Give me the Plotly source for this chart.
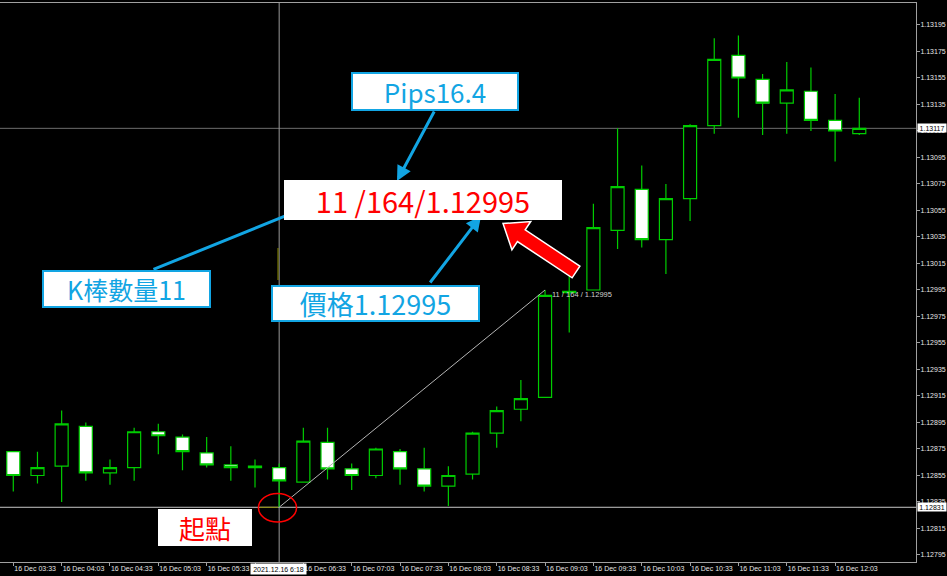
import numpy as np
import plotly.graph_objects as go

# ---------------- data ----------------
day = "2021-12-16 "
times = ["03:33", "03:48", "04:03", "04:18", "04:33", "04:48", "05:03", "05:18", "05:33",
         "05:48", "06:03", "06:18", "06:33", "06:48", "07:03", "07:18", "07:33", "07:48",
         "08:03", "08:18", "08:33", "08:48", "09:03", "09:18", "09:33", "09:48", "10:03",
         "10:18", "10:33", "10:48", "11:03", "11:18", "11:33", "11:48", "12:03", "12:18"]
opens = [1.12873, 1.12855, 1.12862, 1.12892, 1.12857, 1.12861, 1.12888, 1.12884, 1.12872,
         1.12863, 1.12861, 1.12861, 1.12850, 1.12880, 1.12860, 1.12855, 1.12873, 1.12860,
         1.12847, 1.12856, 1.12887, 1.12905, 1.12914, 1.12993, 1.12995, 1.13040, 1.13071,
         1.13033, 1.13064, 1.13119, 1.13172, 1.13154, 1.13136, 1.13145, 1.13123, 1.13113]
highs = [1.12873, 1.12873, 1.12904, 1.12895, 1.12867, 1.12891, 1.12894, 1.12886, 1.12884,
         1.12877, 1.12867, 1.12864, 1.12891, 1.12891, 1.12864, 1.12876, 1.12875, 1.12876,
         1.12862, 1.12888, 1.12907, 1.12927, 1.12995, 1.13019, 1.13060, 1.13117, 1.13089,
         1.13075, 1.13120, 1.13185, 1.13187, 1.13158, 1.13167, 1.13163, 1.13143, 1.13140]
lows = [1.12843, 1.12849, 1.12835, 1.12851, 1.12848, 1.12851, 1.12871, 1.12859, 1.12861,
        1.12851, 1.12846, 1.12831, 1.12850, 1.12852, 1.12844, 1.12853, 1.12848, 1.12843,
        1.12832, 1.12852, 1.12876, 1.12896, 1.12914, 1.12963, 1.12995, 1.13026, 1.13027,
        1.13007, 1.13047, 1.13113, 1.13125, 1.13112, 1.13113, 1.13115, 1.13092, 1.13112]
closes = [1.12855, 1.12861, 1.12894, 1.12857, 1.12861, 1.12888, 1.12885, 1.12873, 1.12863,
          1.12861, 1.12862, 1.12851, 1.12881, 1.12860, 1.12855, 1.12875, 1.12860, 1.12847,
          1.12855, 1.12887, 1.12904, 1.12913, 1.12991, 1.12994, 1.13042, 1.13073, 1.13033,
          1.13064, 1.13119, 1.13169, 1.13155, 1.13136, 1.13146, 1.13123, 1.13115, 1.13117]

price_ticks = [1.12795, 1.12815, 1.12835, 1.12855, 1.12875, 1.12895, 1.12915, 1.12935,
               1.12955, 1.12975, 1.12995, 1.13015, 1.13035, 1.13055, 1.13075, 1.13095,
               1.13115, 1.13135, 1.13155, 1.13175, 1.13195]
time_ticks = ["03:33", "04:03", "04:33", "05:03", "05:33", "06:03", "06:33", "07:03", "07:33",
              "08:03", "08:33", "09:03", "09:33", "10:03", "10:33", "11:03", "11:33", "12:03"]
time_tick_labels = ["16 Dec " + t for t in time_ticks]

current_price = 1.13117
start_index, end_index = 11, 22
start_price, end_price = 1.12831, 1.12995
measure_text = "11 / 164 / 1.12995"
crosshair_label = "2021.12.16 6:18"
label_pips = "Pips16.4"
label_main = "11 /164/1.12995"
label_count = "K棒數量11"
label_price = "價格1.12995"
label_start = "起點"

x_dates = [day + t for t in times]

# ---------------- layout helpers ----------------
W_PLOT, TOP, BOTTOM = 916, 3, 562


def PX(x):
    return x / W_PLOT


def PY(y):
    return (BOTTOM - y) / (BOTTOM - TOP)


GREEN = "#00CC00"
BLUE = "#12A5E3"
CJK = "Noto Sans CJK TC"

fig = go.Figure()
fig.add_trace(go.Candlestick(
    x=x_dates, open=opens, high=highs, low=lows, close=closes,
    increasing=dict(line=dict(color=GREEN, width=1.2), fillcolor="#000000"),
    decreasing=dict(line=dict(color=GREEN, width=1.2), fillcolor="#FFFFFF"),
    whiskerwidth=0, hoverinfo="skip", showlegend=False,
))

shapes = []
shapes.append(dict(type="line", xref="paper", yref="y", x0=0, x1=1, y0=current_price, y1=current_price,
                   line=dict(color="#6e6e6e", width=1), layer="below"))
shapes.append(dict(type="line", xref="paper", yref="y", x0=0, x1=1, y0=start_price, y1=start_price,
                   line=dict(color="#c8c8c8", width=1), layer="below"))
shapes.append(dict(type="line", xref="x", yref="paper", x0=x_dates[start_index], x1=x_dates[start_index],
                   y0=0, y1=1, line=dict(color="#9a9a9a", width=1), layer="below"))
shapes.append(dict(type="line", xref="paper", yref="y", x0=PX(260), x1=PX(278), y0=start_price, y1=start_price,
                   line=dict(color="#8c8c00", width=1), layer="below"))
shapes.append(dict(type="line", xref="paper", yref="paper", x0=PX(278), x1=PX(278), y0=PY(248), y1=PY(280),
                   line=dict(color="#8c8c00", width=1), layer="below"))
shapes.append(dict(type="line", xref="x", yref="y", x0=x_dates[start_index], y0=start_price,
                   x1=x_dates[end_index], y1=end_price, line=dict(color="#b4b4b4", width=1)))
shapes.append(dict(type="circle", xref="paper", yref="paper", x0=PX(258.5), x1=PX(296.5),
                   y0=PY(522), y1=PY(493.5), line=dict(color="#ff0000", width=1.5)))

# big red arrow (polygon in pixel space)
tip = np.array([503.0, 223.5])
tail = np.array([576.0, 272.0])
u = (tip - tail) / np.linalg.norm(tip - tail)
n = np.array([-u[1], u[0]])
head_len, shaft_hw, head_hw = 22.0, 7.0, 17.0
neck = tip - u * head_len
pts = [tail + n * shaft_hw, neck + n * shaft_hw, neck + n * head_hw, tip,
       neck - n * head_hw, neck - n * shaft_hw, tail - n * shaft_hw]
path = "M " + " L ".join(f"{PX(p[0]):.5f},{PY(p[1]):.5f}" for p in pts) + " Z"
shapes.append(dict(type="path", xref="paper", yref="paper", path=path,
                   fillcolor="#ff0000", line=dict(color="#ffffff", width=1.5)))

annotations = []
for (tx, ty), (hx, hy) in [((435, 110), (397, 181)), ((152, 270), (315, 204)), ((429, 284), (481, 216))]:
    annotations.append(dict(xref="paper", yref="paper", x=PX(hx), y=PY(hy), ax=tx - hx, ay=ty - hy,
                            text="", showarrow=True, arrowhead=2, arrowsize=1.0, arrowwidth=3,
                            arrowcolor=BLUE, standoff=0, startstandoff=0))


def box(text, cx, cy, w, h, color, size, border=True):
    bw = 2 if border else 0
    annotations.append(dict(xref="paper", yref="paper", x=PX(cx), y=PY(cy), xanchor="center",
                            yanchor="middle", text=text, showarrow=False,
                            font=dict(family=CJK, size=size, color=color),
                            bgcolor="#ffffff", bordercolor=BLUE if border else "#ffffff",
                            borderwidth=bw, borderpad=0, width=w - 2 * bw, height=h - 2 * bw,
                            align="center", valign="middle"))


box(label_pips, 435, 91, 168, 39, BLUE, 26)
box(label_main, 423, 200, 278, 40, "#ff0000", 29, border=False)
box(label_count, 126.5, 289, 169, 38, BLUE, 25)
box(label_price, 375.5, 303, 209, 37, BLUE, 27)
box(label_start, 205, 527, 94, 37, "#ff0000", 26, border=False)

annotations.append(dict(xref="x", yref="y", x=x_dates[end_index], y=end_price, xanchor="left",
                        yanchor="top", xshift=5, yshift=2, text=measure_text, showarrow=False,
                        font=dict(family="Liberation Sans", size=7.5, color="#d0d0d0")))
for p in [current_price, start_price]:
    annotations.append(dict(xref="paper", yref="y", x=1, y=p, xanchor="left", yanchor="middle",
                            xshift=1, text=f"{p:.5f}", showarrow=False, bgcolor="#ffffff",
                            borderpad=0, width=28, height=8,
                            font=dict(family="Liberation Sans", size=7, color="#000000")))
annotations.append(dict(xref="x", yref="paper", x=x_dates[start_index], y=0, xanchor="center",
                        yanchor="top", yshift=-1, xshift=-1, text=crosshair_label, showarrow=False,
                        bgcolor="#ffffff", borderpad=1, width=53, height=8,
                        font=dict(family="Liberation Sans", size=7, color="#000000")))

fig.update_layout(
    width=947, height=576,
    margin=dict(l=0, r=31, t=TOP, b=576 - BOTTOM, pad=0, autoexpand=False),
    paper_bgcolor="#000000", plot_bgcolor="#000000",
    showlegend=False, boxgap=0.23,
    shapes=shapes, annotations=annotations,
    xaxis=dict(type="date", range=["2021-12-16 03:24:45", "2021-12-16 12:53:12"],
               rangeslider=dict(visible=False), showgrid=False, zeroline=False,
               tickvals=[day + t for t in time_ticks], ticktext=time_tick_labels,
               tickangle=0, automargin=False,
               ticks="outside", ticklen=3, tickcolor="#a0a0a0",
               ticklabelposition="outside right",
               tickfont=dict(family="Liberation Sans", size=7, color="#e6e6e6"),
               showline=True, linecolor="#a0a0a0", linewidth=1, mirror=True, fixedrange=True),
    yaxis=dict(side="right", range=[1.127897, 1.132116], showgrid=False, zeroline=False,
               tickvals=price_ticks, ticktext=[f"{v:.5f}" for v in price_ticks],
               automargin=False, ticklabelstandoff=-1,
               ticks="outside", ticklen=3, tickcolor="#a0a0a0",
               tickfont=dict(family="Liberation Sans", size=7, color="#e6e6e6"),
               showline=True, linecolor="#a0a0a0", linewidth=1, mirror=True, fixedrange=True),
)

fig.write_html("out.html", config={"displayModeBar": False},
               post_script="document.body.style.margin='0';document.body.style.background='#000';")
